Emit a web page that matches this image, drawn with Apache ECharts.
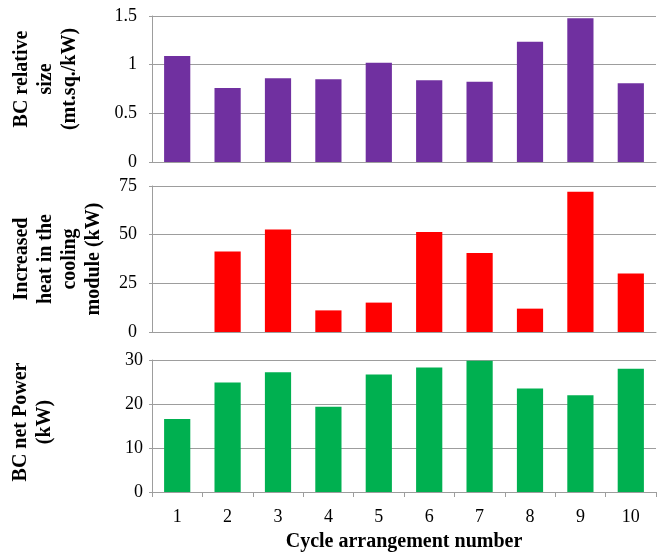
<!DOCTYPE html>
<html>
<head>
<meta charset="utf-8">
<script src="https://cdn.jsdelivr.net/npm/echarts@6/dist/echarts.min.js"></script>
<style>
  html, body { margin: 0; padding: 0; background: #fff; }
  #chart { width: 663px; height: 553px; }
</style>
</head>
<body>
<div id="chart"></div>
<script>
const cycles = ['1', '2', '3', '4', '5', '6', '7', '8', '9', '10']
const relativeSize = [1.09, 0.76, 0.86, 0.85, 1.02, 0.84, 0.825, 1.236, 1.477, 0.81]
const increasedHeat = [0, 41.3, 52.6, 11.1, 15.1, 51.4, 40.6, 12.0, 72.1, 30.0]
const netPower = [16.6, 24.9, 27.2, 19.4, 26.7, 28.3, 29.85, 23.5, 22.0, 28.0]

const gridColor = '#9d9d9d'
const serif = '"Liberation Serif", "Times New Roman", serif'

const chart = echarts.init(document.getElementById('chart'))

function yAxisOf(gridIndex, max, interval, name, nameGap, shiftUp, labelMargin) {
  return {
    type: 'value',
    gridIndex,
    min: 0,
    max,
    interval,
    name,
    nameLocation: 'middle',
    nameRotate: 90,
    nameGap,
    nameMoveOverlap: false,
    nameTextStyle: {
      fontFamily: serif,
      fontWeight: 'bold',
      fontSize: 20,
      lineHeight: 24,
      color: '#000',
      align: 'center',
      padding: [0, 0, 0, shiftUp * 2]
    },
    axisLine: { show: true, lineStyle: { color: gridColor, width: 1 } },
    axisTick: { show: true, length: 3, lineStyle: { color: gridColor } },
    axisLabel: { fontFamily: serif, fontSize: 18, color: '#000', margin: labelMargin },
    splitLine: { show: true, lineStyle: { color: gridColor, width: 1 } }
  }
}

function xAxisOf(gridIndex, last) {
  return {
    type: 'category',
    gridIndex,
    data: cycles,
    name: last ? 'Cycle arrangement number' : '',
    nameLocation: 'middle',
    nameGap: 40,
    nameTextStyle: { fontFamily: serif, fontWeight: 'bold', fontSize: 20, color: '#000' },
    axisLine: { show: true, lineStyle: { color: gridColor, width: 1 } },
    axisTick: { show: last, length: 5, lineStyle: { color: gridColor } },
    axisLabel: { show: last, fontFamily: serif, fontSize: 18, color: '#000', margin: 16 },
    splitLine: { show: false }
  }
}

function barSeries(index, data, color) {
  return {
    type: 'bar',
    xAxisIndex: index,
    yAxisIndex: index,
    data,
    barCategoryGap: '48%',
    itemStyle: { color },
    silent: true
  }
}

chart.setOption({
  animation: false,
  backgroundColor: '#fff',
  grid: [
    { left: 152, right: 7, top: 16, height: 146 },
    { left: 152, right: 7, top: 186, height: 146 },
    { left: 152, right: 7, top: 360, height: 132 }
  ],
  xAxis: [xAxisOf(0, false), xAxisOf(1, false), xAxisOf(2, true)],
  yAxis: [
    yAxisOf(0, 1.5, 0.5, 'BC relative\nsize\n(mt.sq./kW)', 70, 10, 15),
    yAxisOf(1, 75, 25, 'Increased\nheat in the\ncooling\nmodule (kW)', 46, 0, 15),
    yAxisOf(2, 30, 10, 'BC net Power\n(kW)', 95, 4, 9)
  ],
  series: [
    barSeries(0, relativeSize, '#7030a0'),
    barSeries(1, increasedHeat, '#ff0000'),
    barSeries(2, netPower, '#00b050')
  ]
})
</script>
</body>
</html>
